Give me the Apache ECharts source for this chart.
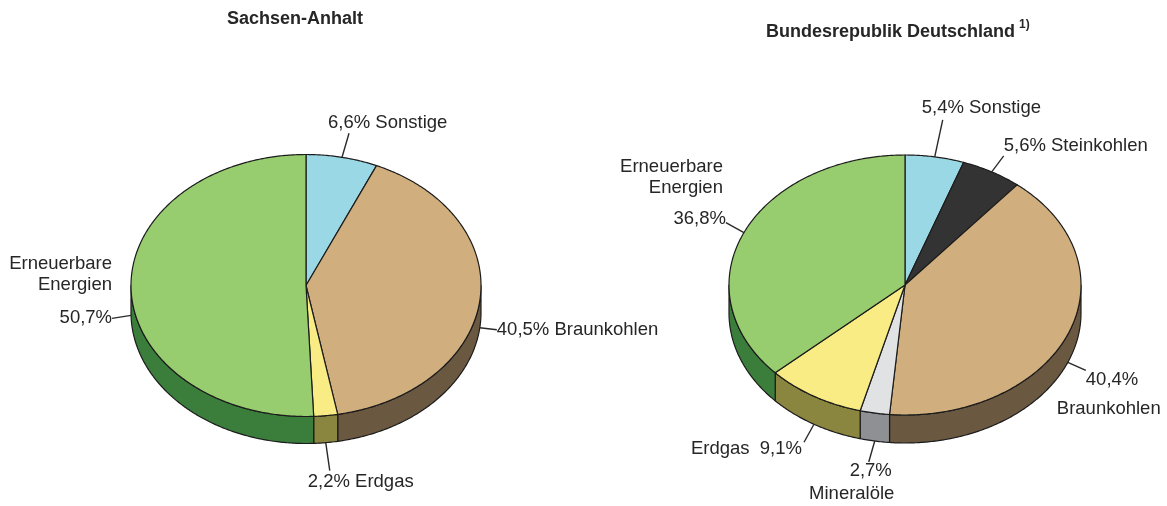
<!DOCTYPE html>
<html>
<head>
<meta charset="utf-8">
<script src="https://cdn.jsdelivr.net/npm/echarts@6/dist/echarts.min.js"></script>
<style>
html,body{margin:0;padding:0;background:#fff;}
#chart{width:1167px;height:506px;}
</style>
</head>
<body>
<div id="chart"></div>
<script>
// ---- data ----
const titleSA = 'Sachsen-Anhalt';
const titleDE = 'Bundesrepublik Deutschland';
const footnoteDE = '1)';
const categoriesSA = ['Sonstige', 'Braunkohlen', 'Erdgas', 'Erneuerbare\nEnergien'];
const valuesSA = [6.6, 40.5, 2.2, 50.7];
const categoriesDE = ['Sonstige', 'Steinkohlen', 'Braunkohlen', 'Mineralöle', 'Erdgas', 'Erneuerbare\nEnergien'];
const valuesDE = [5.4, 5.6, 40.4, 2.7, 9.1, 36.8];

// ---- styles ----
const colorTop = {
  'Sonstige': '#9bd8e5', 'Steinkohlen': '#333333', 'Braunkohlen': '#d0ae7e',
  'Mineralöle': '#e1e2e4', 'Erdgas': '#f9ec84', 'Erneuerbare\nEnergien': '#97cc6f'
};
const colorSide = {
  'Sonstige': '#5b8f99', 'Steinkohlen': '#1f1f1f', 'Braunkohlen': '#6a5840',
  'Mineralöle': '#8f9093', 'Erdgas': '#8a853f', 'Erneuerbare\nEnergien': '#3b7e3c'
};
const FONT = '"Liberation Sans", Arial, sans-serif';
const TXT = '#262626';
const EDGE = '#1c1c1c';

// ---- layout ----
const geoSA = { cx: 306, cy: 285.5, rx: 175, ry: 131, depth: 27 };
const geoDE = { cx: 905, cy: 285, rx: 176, ry: 130, depth: 28 };
const labelsSA = [
  { line: [7, -24], texts: [{ k: 'vn', dx: -14, dy: -34, align: 'left' }] },
  { line: [17, 2], texts: [{ k: 'vn', dx: 17, dy: 2, align: 'left' }] },
  { line: [4, 28], texts: [{ k: 'vn', dx: -18, dy: 39, align: 'left' }] },
  { line: [-19, 3], texts: [{ k: 'n', dx: -19, dy: -41, align: 'right' }, { k: 'v', dx: -19, dy: 3, align: 'right' }] }
];
const labelsDE = [
  { line: [8, -37], texts: [{ k: 'vn', dx: -13, dy: -49, align: 'left' }] },
  { line: [12, -16], texts: [{ k: 'vn', dx: 12, dy: -26, align: 'left' }] },
  { line: [18, 8], texts: [{ k: 'v', dx: 18, dy: 18, align: 'left' }, { k: 'n', dx: -11, dy: 47, align: 'left' }] },
  { line: [-6, 21], texts: [{ k: 'v', dx: -4, dy: 30, align: 'center' }, { k: 'n', dx: -23, dy: 53, align: 'center' }] },
  { line: [-10, 18], texts: [{ k: 'nv', dx: -12, dy: 25, align: 'right' }] },
  { line: [-18, -10], texts: [{ k: 'n', dx: -21, dy: -55, align: 'right' }, { k: 'v', dx: -18, dy: -14, align: 'right' }] }
];

function fmt(v) { return v.toFixed(1).replace('.', ',') + '%'; }

function makeRender(cats, values, geo, labels) {
  const total = values.reduce((a, b) => a + b, 0);
  const starts = [];
  let acc = 0;
  values.forEach(v => { starts.push(acc); acc += v; });
  const { cx, cy, rx, ry, depth } = geo;
  const pt = (a, dy) => [cx + rx * Math.sin(a), cy - ry * Math.cos(a) + (dy || 0)];
  const arc = (s, e, dy) => {
    const n = Math.max(2, Math.ceil((e - s) / 0.01));
    const pts = [];
    for (let k = 0; k <= n; k++) pts.push(pt(s + (e - s) * k / n, dy));
    return pts;
  };
  return function (params, api) {
    const i = params.dataIndex;
    const v = api.value(0);
    const name = cats[i];
    const a0 = starts[i] / total * Math.PI * 2;
    const a1 = a0 + v / total * Math.PI * 2;
    const children = [];
    // side face (front half only)
    const s = Math.max(a0, Math.PI / 2), e = Math.min(a1, Math.PI * 1.5);
    if (e > s) {
      const pts = arc(s, e, 0).concat(arc(s, e, depth).reverse());
      children.push({
        type: 'polygon', z2: 5, shape: { points: pts },
        style: { fill: colorSide[name], stroke: EDGE, lineWidth: 1.2, lineJoin: 'round' }
      });
    }
    // top face
    const topPts = [[cx, cy]].concat(arc(a0, a1, 0));
    children.push({
      type: 'polygon', z2: 10, shape: { points: topPts },
      style: { fill: colorTop[name], stroke: EDGE, lineWidth: 1.2, lineJoin: 'round' }
    });
    // label
    const L = labels[i];
    const mid = (a0 + a1) / 2;
    const front = Math.cos(mid) < 0;
    const anc = pt(mid, front ? depth : 0);
    children.push({
      type: 'line', z2: 12,
      shape: { x1: anc[0], y1: anc[1], x2: anc[0] + L.line[0], y2: anc[1] + L.line[1] },
      style: { stroke: '#2a2a2a', lineWidth: 1.4 }
    });
    L.texts.forEach(t => {
      let str;
      if (t.k === 'vn') str = fmt(v) + ' ' + name;
      else if (t.k === 'nv') str = name + '  ' + fmt(v);
      else if (t.k === 'v') str = fmt(v);
      else str = name;
      children.push({
        type: 'text', z2: 15,
        style: {
          text: str, x: anc[0] + t.dx, y: anc[1] + t.dy,
          fill: TXT, fontSize: 18.5, fontFamily: FONT, lineHeight: 21,
          align: t.align, verticalAlign: 'middle'
        }
      });
    });
    return { type: 'group', children };
  };
}

const chart = echarts.init(document.getElementById('chart'), null, { renderer: 'canvas' });
chart.setOption({
  backgroundColor: '#ffffff',
  animation: false,
  title: [
    { text: titleSA, left: 227, top: 10, padding: 0,
      textStyle: { fontSize: 18, fontWeight: 'bold', fontFamily: FONT, color: TXT } },
    { text: titleDE, left: 766, top: 23, padding: 0,
      textStyle: { fontSize: 18, fontWeight: 'bold', fontFamily: FONT, color: TXT } },
    { text: footnoteDE, left: 1019, top: 19, padding: 0,
      textStyle: { fontSize: 12, fontWeight: 'bold', fontFamily: FONT, color: TXT } }
  ],
  series: [
    { type: 'custom', coordinateSystem: 'none', silent: true,
      renderItem: makeRender(categoriesSA, valuesSA, geoSA, labelsSA),
      data: valuesSA.map(v => [v]) },
    { type: 'custom', coordinateSystem: 'none', silent: true,
      renderItem: makeRender(categoriesDE, valuesDE, geoDE, labelsDE),
      data: valuesDE.map(v => [v]) }
  ]
});
</script>
</body>
</html>
